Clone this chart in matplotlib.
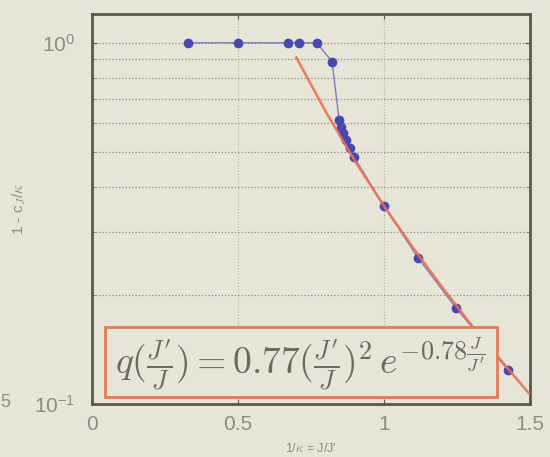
import matplotlib.pyplot as plt
from matplotlib.patches import Rectangle

# simulated overlap 1 - c_J/kappa against 1/kappa = J/J'
inv_kappa = [0.33, 0.50, 0.67, 0.71, 0.77, 0.822, 0.846, 0.853, 0.860, 0.870,
             0.884, 0.897, 1.0, 1.116, 1.247, 1.425]
overlap = [1.0, 1.0, 1.0, 1.0, 1.0, 0.886, 0.612, 0.585, 0.563, 0.539,
           0.512, 0.483, 0.353, 0.254, 0.184, 0.124]

# fit q = 0.77 (J'/J)^2 exp(-0.78 J/J'), tabulated
fit_x = [0.7, 0.8, 0.9, 1.0, 1.1, 1.2, 1.3, 1.4, 1.5]
fit_q = [0.910, 0.645, 0.471, 0.353, 0.270, 0.210, 0.165, 0.132, 0.106]

xticks = [0, 0.5, 1, 1.5]
xtick_labels = ['0', '0.5', '1', '1.5']

BG = '#e6e5d8'
TXT = '#8c8c80'
FRAME = '#5c5848'

plt.rcParams['mathtext.fontset'] = 'cm'
plt.rcParams['font.family'] = ['Liberation Sans', 'DejaVu Sans']

fig = plt.figure(figsize=(5.5, 4.57), dpi=100, facecolor=BG)
ax = fig.add_axes([0.167, 0.116, 0.797, 0.853], facecolor=BG)

ax.plot(inv_kappa, overlap, '-', color='#7b7bc6', lw=1.0, zorder=3)
ax.plot(inv_kappa, overlap, 'o', color='#4848b0', ms=6, zorder=4)
ax.plot(fit_x, fit_q, '-', color='#ea7052', lw=1.8, alpha=0.9, zorder=5)

ax.set_yscale('log')
ax.set_xlim(0, 1.5)
ax.set_ylim(0.1, 1.2)
ax.set_xticks(xticks)
ax.set_xticklabels(xtick_labels)
ax.set_yticks([0.1, 1])
ax.set_yticklabels([r'$\mathdefault{10^{-1}}$', r'$\mathdefault{10^{0}}$'])

ax.yaxis.grid(True, which='both', ls=':', color='#8e8e80', lw=0.9)
ax.xaxis.grid(True, ls=':', color='#b4b4a6', lw=0.8)
ax.tick_params(which='both', direction='in', top=True, right=True,
               colors=FRAME, labelcolor=TXT, labelsize=15)
ax.tick_params(axis='x', pad=8)
ax.tick_params(axis='y', pad=12)
for s in ax.spines.values():
    s.set_color(FRAME)
    s.set_linewidth(2)

ax.set_xlabel(r"1/$\kappa$ = J/J'", fontsize=9, color=TXT, labelpad=6)
ax.set_ylabel(r'1 - c$_J$/$\kappa$', fontsize=11, color=TXT, labelpad=4)

# formula box
ax.add_patch(Rectangle((0.030, 0.018), 0.895, 0.179, transform=ax.transAxes,
                       facecolor=BG, edgecolor='#e87a55', lw=2, zorder=6))
ax.text(0.475, 0.105,
        r"$q(\frac{J'}{J}) = 0.77(\frac{J'}{J})^2\, e^{-0.78\frac{J}{J'}}$",
        transform=ax.transAxes, ha='center', va='center', fontsize=27,
        color='#6e6a58', zorder=7)

fig.text(0.0, 0.12, '5', fontsize=13, color=TXT, va='center')

fig.savefig('out.png', dpi=100, facecolor=BG)
